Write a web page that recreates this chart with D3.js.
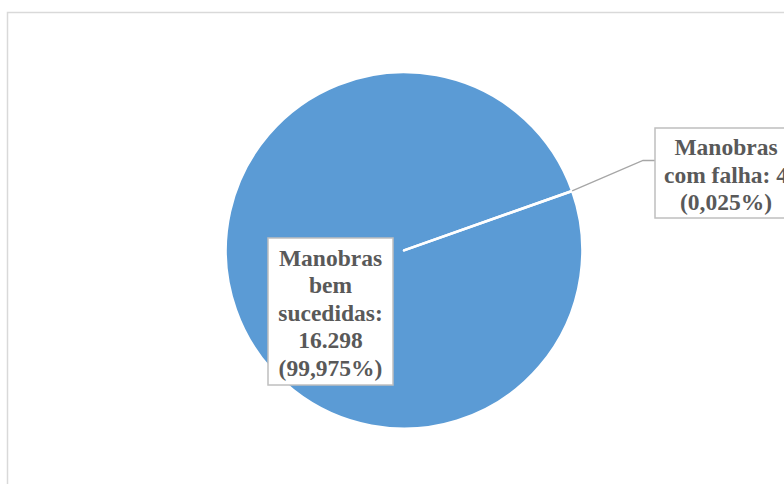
<!DOCTYPE html>
<html><head><meta charset="utf-8">
<script src="https://cdn.jsdelivr.net/npm/d3@7"></script>
<style>html,body{margin:0;padding:0;background:#fff;overflow:hidden}</style>
</head><body>
<script>
const categories = ["Manobras bem sucedidas", "Manobras com falha"];
const values = [16298, 4];
const colors = ["#5B9BD5", "#5B9BD5"];

const W = 784, H = 484;
const svg = d3.select("body").append("svg").attr("width", W).attr("height", H);

// chart border
svg.append("rect").attr("x", 7.5).attr("y", 12.5).attr("width", 900).attr("height", 600)
  .attr("fill", "#fff").attr("stroke", "#D9D9D9").attr("stroke-width", 1.5);

const cx = 404, cy = 250.3, R = 178.3;
const startDeg = 70.6;
const total = d3.sum(values);
const fmtInt = v => d3.format(",")(v).replace(/,/g, ".");
const fmtPct = v => d3.format(".3f")(v * 100).replace(".", ",") + "%";

const pie = d3.pie().sort(null)
  .startAngle(startDeg * Math.PI / 180)
  .endAngle(startDeg * Math.PI / 180 + 2 * Math.PI);
const arcs = pie(values);
const arc = d3.arc().innerRadius(0).outerRadius(R);

const g = svg.append("g").attr("transform", `translate(${cx},${cy})`);
g.selectAll("path").data(arcs).join("path")
  .attr("d", arc)
  .attr("fill", (d, i) => colors[i])
  .attr("stroke", "#fff").attr("stroke-width", 2.4).attr("stroke-linejoin", "round");

// labels
const lab = [
  { x: 330.5, y: 238, w: 125, h: 147, lines: ["Manobras", "bem", "sucedidas:", fmtInt(values[0]), "(" + fmtPct(values[0] / total) + ")"], y0: 265.5 },
  { x: 726, y: 128, w: 142, h: 90, lines: ["Manobras", "com falha: " + fmtInt(values[1]), "(" + fmtPct(values[1] / total) + ")"], y0: 155 }
];

// leader line for small slice
const a1 = arcs[1];
const mid = (a1.startAngle + a1.endAngle) / 2;
const ex = cx + Math.sin(mid) * R, ey = cy - Math.cos(mid) * R;
svg.append("polyline")
  .attr("points", `${ex},${ey} 643,160.5 ${lab[1].x - lab[1].w / 2},160.5`)
  .attr("fill", "none").attr("stroke", "#A6A6A6").attr("stroke-width", 1.3);

lab.forEach(L => {
  svg.append("rect").attr("x", L.x - L.w / 2).attr("y", L.y).attr("width", L.w).attr("height", L.h)
    .attr("fill", "#fff").attr("stroke", "#BFBFBF").attr("stroke-width", 1.5);
  const t = svg.append("text").attr("text-anchor", "middle")
    .attr("font-family", "'Liberation Serif', 'Times New Roman', serif")
    .attr("font-weight", "bold").attr("font-size", 23.5).attr("fill", "#595959");
  L.lines.forEach((s, i) => t.append("tspan").attr("x", L.x).attr("y", L.y0 + i * 27.6).text(s));
});
</script>
</body></html>
